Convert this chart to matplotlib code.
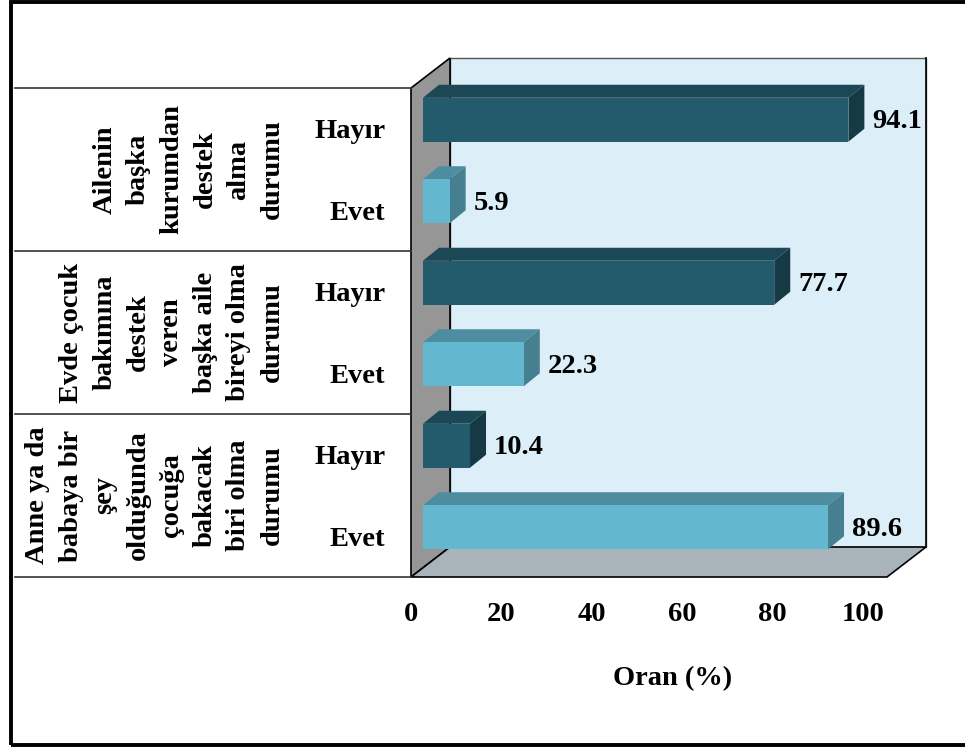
import matplotlib
matplotlib.use("Agg")
import matplotlib.pyplot as plt
from matplotlib.patches import Polygon, Rectangle
from matplotlib.transforms import IdentityTransform

# data
groups = ["Ailenin\nbaşka\nkurumdan\ndestek\nalma\ndurumu",
          "Evde çocuk\nbakımına\ndestek\nveren\nbaşka aile\nbireyi olma\ndurumu",
          "Anne ya da\nbabaya bir\nşey\nolduğunda\nçocuğa\nbakacak\nbiri olma\ndurumu"]
answers = ["Hayır", "Evet", "Hayır", "Evet", "Hayır", "Evet"]
values = [94.1, 5.9, 77.7, 22.3, 10.4, 89.6]
x_ticks = [0, 20, 40, 60, 80, 100]

plt.rcParams['font.family'] = ['Liberation Serif', 'DejaVu Serif']
plt.rcParams['font.weight'] = 'bold'
plt.rcParams['font.size'] = 20.5

# colours (front, top, side)
dark = ('#235B6C', '#1C4754', '#163A45')
light = ('#63B8D0', '#4E8D9F', '#467F8F')

W, H = 965, 749
fig = plt.figure(figsize=(W / 100, H / 100), dpi=100)

# front plane of the 3d box (pixels, from top)
L, R, T, B = 411, 887, 88, 577
ax = fig.add_axes([L / W, 1 - B / H, (R - L) / W, (B - T) / H])
n = len(values)
ax.set_xlim(0, 105.3)
ax.set_ylim(n - 0.5, -0.5)
ax.patch.set_visible(False)
for s in ax.spines.values():
    s.set_visible(False)

depth = (39, 30)       # wall depth, display px
bar_shift = (12, 9)    # bar front face sits a bit behind front plane
bar_depth = (16, 13)
bar_h = 0.54


def face(pts, fc, ec='none', lw=0, z=1):
    ax.add_patch(Polygon(pts, closed=True, fc=fc, ec=ec, lw=lw, zorder=z,
                         transform=IdentityTransform(), clip_on=False))


def shifted(p, d):
    return (p[0] + d[0], p[1] + d[1])


# walls
c = ax.transAxes.transform([(0, 0), (1, 0), (1, 1), (0, 1)])
bl, br, tr, tl = [tuple(p) for p in c]
face([shifted(bl, depth), shifted(br, depth), shifted(tr, depth), shifted(tl, depth)],
     '#DCEEF8', ec='#555555', lw=1.0, z=0.5)
ax.plot([shifted(br, depth)[0]] * 2, [shifted(br, depth)[1], shifted(tr, depth)[1]],
        color='black', lw=1.2, transform=IdentityTransform(), clip_on=False, zorder=0.6)
face([bl, tl, shifted(tl, depth), shifted(bl, depth)], '#969696', ec='black', lw=1.2, z=0.7)
face([bl, br, shifted(br, depth), shifted(bl, depth)], '#A8B4BA', ec='black', lw=1.2, z=0.8)

# bars
for i, v in enumerate(values):
    cols = dark if i % 2 == 0 else light
    p = ax.transData.transform([(0, i - bar_h / 2), (v, i + bar_h / 2)])
    x0, ytop = p[0][0] + bar_shift[0], p[0][1] + bar_shift[1]
    x1, ybot = p[1][0] + bar_shift[0], p[1][1] + bar_shift[1]
    dx, dy = bar_depth
    face([(x0, ytop), (x1, ytop), (x1 + dx, ytop + dy), (x0 + dx, ytop + dy)], cols[1], z=2)
    face([(x1, ybot), (x1 + dx, ybot + dy), (x1 + dx, ytop + dy), (x1, ytop)], cols[2], z=2)
    face([(x0, ybot), (x1, ybot), (x1, ytop), (x0, ytop)], cols[0], z=3)
    ax.annotate(f"{v}", xy=(v, i), xytext=(bar_shift[0] + dx + 8, bar_shift[1] - 2),
                textcoords='offset pixels', ha='left', va='center', zorder=5,
                annotation_clip=False)

# axes ticks
ax.set_yticks(range(n))
ax.set_yticklabels(answers)
ax.set_xticks(x_ticks)
ax.set_xticklabels([str(t) for t in x_ticks])
ax.tick_params(axis='y', length=0, pad=18.5)
ax.tick_params(axis='x', length=0, pad=18)
ax.set_xlabel("Oran (%)", fontweight='bold')
ax.xaxis.set_label_coords(0.55, -0.182)

# left table with group names
for y in [-0.5, 1.5, 3.5, 5.5]:
    ax.plot([-0.832, 0], [y, y], color='#333333', lw=1.2,
            transform=ax.get_yaxis_transform(), clip_on=False)
for g, label in enumerate(groups):
    ax.text(-0.2647, 2 * g + 0.5, label, transform=ax.get_yaxis_transform(),
            rotation=90, ha='right', va='center', multialignment='center',
            linespacing=1.45, clip_on=False)

# outer frame
fig.add_artist(Rectangle((11 / W, 4 / H), 1.0, 743.5 / H, transform=fig.transFigure,
                         fill=False, ec='black', lw=2.8))

fig.savefig("out.png", dpi=100)
